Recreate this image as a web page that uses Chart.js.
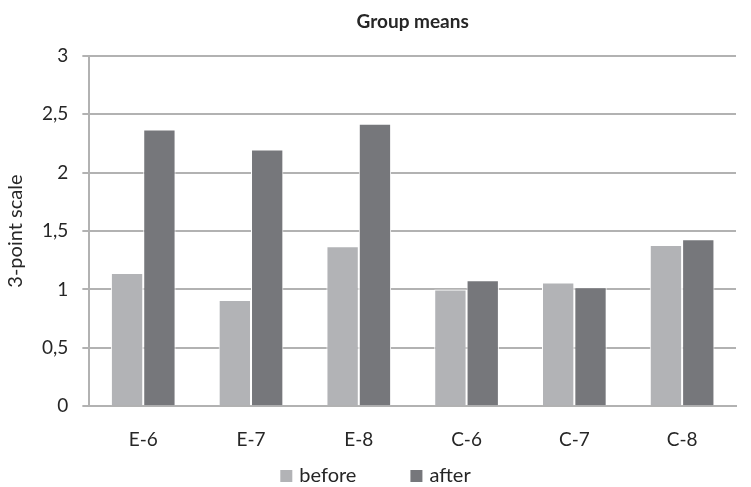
<!DOCTYPE html>
<html>
<head>
<meta charset="utf-8">
<script src="https://cdn.jsdelivr.net/npm/chart.js@4.4.0/dist/chart.umd.min.js"></script>
<style>
  html, body { margin: 0; padding: 0; background: #fff; }
  #wrap { width: 751px; height: 487px; }
</style>
</head>
<body>
<div id="wrap"><canvas id="chart" width="751" height="487"></canvas></div>
<script>
const groups = ["E-6", "E-7", "E-8", "C-6", "C-7", "C-8"];
const beforeValues = [1.14, 0.91, 1.37, 1.0, 1.06, 1.38];
const afterValues = [2.37, 2.2, 2.42, 1.08, 1.02, 1.43];
const yTickLabels = ["0", "0,5", "1", "1,5", "2", "2,5", "3"];

const gridColor = "#b2b2b2";
const textColor = "#262626";
const fontFamily = "Lato, 'Open Sans', sans-serif";

// title is centred over the plot area, not over the whole canvas
const plotTitle = {
  id: "plotTitle",
  afterDraw(chart) {
    const { ctx, chartArea } = chart;
    ctx.save();
    ctx.font = `bold 19px ${fontFamily}`;
    ctx.fillStyle = textColor;
    ctx.textAlign = "center";
    ctx.textBaseline = "middle";
    ctx.fillText("Group means", (chartArea.left + chartArea.right) / 2, 22);
    ctx.restore();
  },
};

// legend drawn by hand so the gap between the two items can be wide
const bottomLegend = {
  id: "bottomLegend",
  afterDraw(chart) {
    const { ctx } = chart;
    const box = 12;
    const textGap = 7;
    const itemGap = 54;
    const y = 476;
    ctx.save();
    ctx.font = `20px ${fontFamily}`;
    ctx.textBaseline = "middle";
    const items = chart.data.datasets.map((ds) => ({
      text: ds.label,
      color: ds.backgroundColor,
      width: box + textGap + ctx.measureText(ds.label).width,
    }));
    const total = items.reduce((sum, it) => sum + it.width, 0) + itemGap * (items.length - 1);
    let x = chart.width / 2 - total / 2;
    items.forEach((it) => {
      ctx.fillStyle = it.color;
      ctx.fillRect(x, y - box / 2, box, box);
      ctx.fillStyle = textColor;
      ctx.fillText(it.text, x + box + textGap, y);
      x += it.width + itemGap;
    });
    ctx.restore();
  },
};

new Chart(document.getElementById("chart"), {
  type: "bar",
  data: {
    labels: groups,
    datasets: [
      {
        label: "before",
        data: beforeValues,
        backgroundColor: "#b2b3b6",
        borderColor: "#ffffff",
        borderWidth: 1,
      },
      {
        label: "after",
        data: afterValues,
        backgroundColor: "#76777b",
        borderColor: "#ffffff",
        borderWidth: 1,
      },
    ],
  },
  options: {
    responsive: false,
    animation: false,
    devicePixelRatio: 1,
    layout: { padding: { top: 56, right: 15, bottom: 22, left: 4 } },
    datasets: { bar: { categoryPercentage: 0.6, barPercentage: 1 } },
    plugins: {
      title: { display: false },
      tooltip: { enabled: false },
      legend: { display: false },
    },
    scales: {
      x: {
        grid: { display: false },
        border: { display: true, color: gridColor, width: 2 },
        ticks: { color: textColor, font: { family: fontFamily, size: 19 }, padding: 14 },
      },
      y: {
        min: 0,
        max: 3,
        ticks: {
          stepSize: 0.5,
          color: textColor,
          font: { family: fontFamily, size: 19 },
          padding: 14,
          callback: (value) => yTickLabels[Math.round(value * 2)],
        },
        grid: { color: gridColor, lineWidth: 2, tickLength: 7, tickColor: gridColor },
        border: { display: true, color: gridColor, width: 2 },
        title: {
          display: true,
          text: "3-point scale",
          color: textColor,
          font: { family: fontFamily, size: 20 },
          padding: { top: 0, bottom: 0 },
        },
      },
    },
  },
  plugins: [plotTitle, bottomLegend],
});
</script>
</body>
</html>
